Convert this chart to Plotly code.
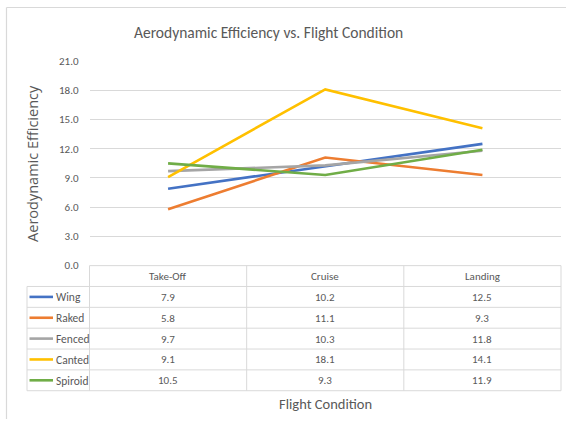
import plotly.graph_objects as go

# Chart data
conditions = ["Take-Off", "Cruise", "Landing"]
series_names = ["Wing", "Raked", "Fenced", "Canted", "Spiroid"]
wing = [7.9, 10.2, 12.5]
raked = [5.8, 11.1, 9.3]
fenced = [9.7, 10.3, 11.8]
canted = [9.1, 18.1, 14.1]
spiroid = [10.5, 9.3, 11.9]
series_values = [wing, raked, fenced, canted, spiroid]
colors = ["#4472C4", "#ED7D31", "#A5A5A5", "#FFC000", "#70AD47"]
y_ticks = [0, 3, 6, 9, 12, 15, 18, 21]

W, H = 566, 426
FONT = "Carlito, Liberation Sans Narrow, Open Sans, sans-serif"
TXT = "#595959"
GRID = "#D9D9D9"

# layout positions are given in page pixels and converted to paper fractions
TOP, SPAN = 7.0, 412.0

def px(x):
    return x / W

def py(y):
    return 1 - (y - TOP) / SPAN

plot_l, plot_r = 89.5, 561
plot_t, plot_b = 62, 266
row_h = 20.8
table_l = 27
n_rows = len(series_names)
table_b = plot_b + row_h * (n_rows + 1)
col_w = (plot_r - plot_l) / len(conditions)

fig = go.Figure()
for name, vals, c in zip(series_names, series_values, colors):
    fig.add_trace(go.Scatter(
        x=conditions, y=vals, mode="lines", name=name,
        line=dict(color=c, width=2.6), showlegend=False,
    ))

shapes = []
annotations = []

def text(x, y, s, size, xanchor="center", angle=0, family=FONT, color=TXT):
    annotations.append(dict(xref="paper", yref="paper", x=px(x), y=py(y),
                            xanchor=xanchor, yanchor="middle", text=s,
                            textangle=angle, showarrow=False,
                            font=dict(family=family, size=size, color=color)))

# chart frame (top and left edges)
shapes.append(dict(type="line", xref="paper", yref="paper",
                   x0=px(6.5), x1=px(566), y0=py(8.5), y1=py(8.5),
                   line=dict(color="#D9D9D9", width=1.2)))
shapes.append(dict(type="line", xref="paper", yref="paper",
                   x0=px(6.5), x1=px(6.5), y0=py(8.5), y1=0,
                   line=dict(color="#D9D9D9", width=1.2)))

def hline(y, x0, x1):
    shapes.append(dict(type="line", xref="paper", yref="paper",
                       x0=px(x0), x1=px(x1), y0=py(y), y1=py(y),
                       line=dict(color=GRID, width=1)))

def vline(x, y0, y1):
    shapes.append(dict(type="line", xref="paper", yref="paper",
                       x0=px(x), x1=px(x), y0=py(y0), y1=py(y1),
                       line=dict(color=GRID, width=1)))

# data table grid
hline(plot_b, plot_l, plot_r)
for i in range(1, n_rows + 2):
    hline(plot_b + row_h * i, table_l, plot_r)
vline(table_l, plot_b + row_h, table_b)
for j in range(len(conditions) + 1):
    vline(plot_l + col_w * j, plot_b, table_b)

# header row
for j, cond in enumerate(conditions):
    text(plot_l + col_w * (j + 0.5), plot_b + row_h / 2 + 0.5, cond, 11)

# series rows: legend key, name and values
for i, (name, vals, c) in enumerate(zip(series_names, series_values, colors)):
    yc = plot_b + row_h * (i + 1.5)
    shapes.append(dict(type="line", xref="paper", yref="paper",
                       x0=px(29.5), x1=px(53), y0=py(yc), y1=py(yc),
                       line=dict(color=c, width=2.6)))
    text(54, yc + 0.5, name, 11.5, xanchor="left")
    for j, v in enumerate(vals):
        text(plot_l + col_w * (j + 0.5), yc + 0.5, f"{v:.1f}", 11)

# titles
text(268, 33, "Aerodynamic Efficiency vs. Flight Condition", 15.5)
text(325, 404, "Flight Condition", 14.5)
text(33, 164.5, "Aerodynamic Efficiency", 14.5, angle=-90, family="Open Sans")

fig.update_layout(
    width=W, height=H,
    margin=dict(l=0, r=0, t=0, b=0),
    paper_bgcolor="white", plot_bgcolor="white",
    shapes=shapes, annotations=annotations,
    xaxis=dict(domain=[px(plot_l), px(plot_r)], range=[-0.5, 2.5],
               showticklabels=False, showgrid=False, zeroline=False,
               showline=False, ticks=""),
    yaxis=dict(domain=[py(plot_b), py(plot_t)], range=[0, 21],
               tickvals=y_ticks, ticktext=[f"{t:.1f}" for t in y_ticks],
               showgrid=True, gridcolor=GRID, gridwidth=1, zeroline=False,
               showline=False, ticks="", ticklabelstandoff=10,
               tickfont=dict(family=FONT, size=11, color=TXT)),
)

fig.write_html("out.html")
